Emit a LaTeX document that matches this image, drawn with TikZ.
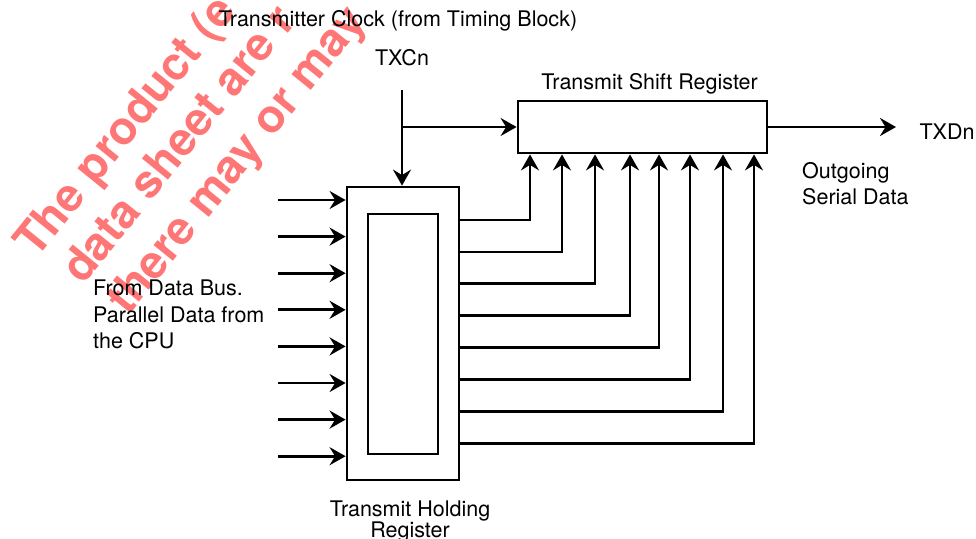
\documentclass[tikz,border=0pt]{standalone}
\usepackage{fontspec}
\setmainfont{TeX Gyre Heros}
\usetikzlibrary{arrows.meta,positioning}
\definecolor{uaedge}{RGB}{0,0,0}
\definecolor{uawm}{RGB}{255,118,118}
\tikzset{
  regbox/.style={draw=uaedge, line width=2.8pt, inner sep=0pt},
  arr/.style={-{Stealth[length=16pt,width=18pt,inset=5.5pt]}, draw=uaedge, line width=2.8pt},
  lbl/.style={inner sep=0pt, font=\fontsize{21.5}{26.5}\selectfont},
  wmark/.style={inner sep=0pt, text=uawm, rotate=51, anchor=base west,
    font=\fontsize{46}{54}\selectfont\bfseries},
  every picture/.append style={line join=miter}
}

\begin{document}
\begin{tikzpicture}[x=1pt,y=-1pt]
  \useasboundingbox (0,0) rectangle (976,538);
  % watermark
  \begin{scope}
    \clip (0,0) rectangle (976,538);
    \node[wmark] (wm1) at (36,260) {The product (e};
    \node[wmark] (wm2) at (83,286) {data sheet are r};
    \node[wmark] (wm3) at (128,317) {there may or may};
  \end{scope}

  % registers
  \node[regbox, minimum width=249pt, minimum height=52pt] (tsr) at (642.5,127) {};
  \node[regbox, minimum width=112pt, minimum height=293pt] (thr) at (403,333.5) {};
  \node[regbox, minimum width=70pt, minimum height=240pt] (thrcell) at (403,334) {};

  % labels
  \node[lbl, anchor=base] (clklbl) at (398,27) {Transmitter Clock (from Timing Block)};
  \node[lbl, anchor=base] (txclbl) at (402,65) {TXCn};
  \node[lbl, anchor=base] (tsrlbl) at (649.5,89) {Transmit Shift Register};
  \node[lbl, anchor=base] (txdlbl) at (947,139) {TXDn};
  \node[lbl, anchor=north west, align=left] (outlbl) at (802,162)
    {Outgoing\\Serial Data};
  \node[lbl, anchor=north west, align=left] (buslbl) at (93,280)
    {From Data Bus.\\Parallel Data from\\the CPU};
  \node[lbl, anchor=north, align=center, font=\fontsize{21.5}{20.5}\selectfont] (thrlbl)
    at (410,501) {Transmit Holding\\Register};

  % clock and serial out
  \coordinate (clk) at (402,90);
  \draw[arr] (clk) -- (clk |- thr.north);
  \draw[arr] (clk |- tsr.west) -- (tsr.west);
  \coordinate (txd) at (896,127);
  \draw[arr] (tsr.east) -- (txd);

  % parallel bus in
  \foreach \i in {0,...,7} {
    \coordinate (bus\i) at (278,{200+36.6*\i});
    \draw[arr] (bus\i) -- (bus\i -| thr.west);
  }

  % holding register to shift register
  \foreach \xo [count=\i from 0] in {530,562,595,630,659,690,723,754} {
    \coordinate (par\i) at (\xo,{220+31.9*\i});
    \draw[arr] (thr.east |- par\i) -| (par\i |- tsr.south);
  }
\end{tikzpicture}
\end{document}
